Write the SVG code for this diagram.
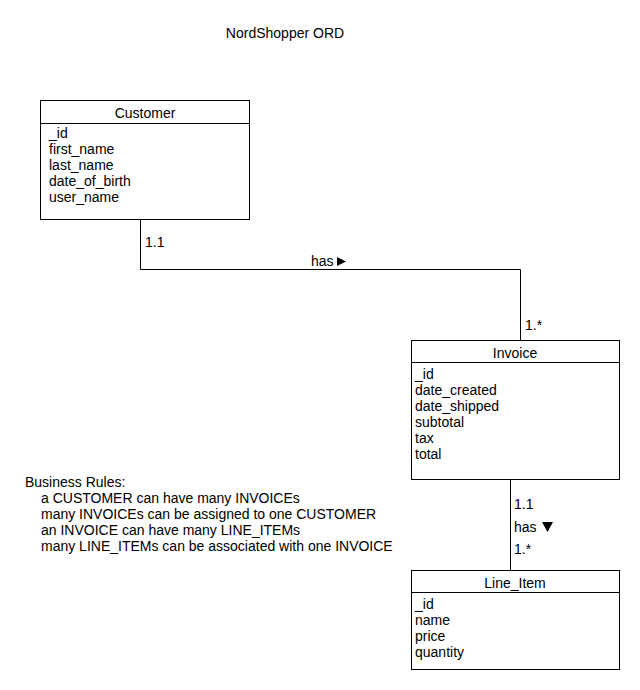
<svg xmlns="http://www.w3.org/2000/svg" width="640" height="690" viewBox="0 0 640 690">
<style>
text{font-family:"Liberation Sans",Arial,sans-serif;font-size:14px;fill:#000}
.c{text-anchor:middle}
.box{fill:#fff;stroke:#000;stroke-width:1}
.ln{stroke:#000;stroke-width:1;fill:none}
</style>
<rect width="640" height="690" fill="#fff"/>
<text class="c" x="285" y="38">NordShopper ORD</text>
<g id="connectors">
<polyline class="ln" points="140.5,219 140.5,269.5 520.5,269.5 520.5,340"/>
<line class="ln" x1="510.5" y1="479" x2="510.5" y2="570"/>
<text x="145" y="247">1.1</text>
<text x="311" y="266">has</text>
<polygon points="337,257 346,261.5 337,266" fill="#000"/>
<text x="525" y="330">1.*</text>
<text x="514" y="509">1.1</text>
<text x="514" y="532">has</text>
<polygon points="542,522 553,522 547.5,532" fill="#000"/>
<text x="514" y="554">1.*</text>
</g>
<g id="customer">
<rect class="box" x="40.5" y="100.5" width="209" height="119"/>
<line class="ln" x1="40.5" y1="123.5" x2="249.5" y2="123.5"/>
<text class="c" x="145" y="118">Customer</text>
<text x="49" y="138">_id</text>
<text x="49" y="154">first_name</text>
<text x="49" y="170">last_name</text>
<text x="49" y="186">date_of_birth</text>
<text x="49" y="202">user_name</text>
</g>
<g id="invoice">
<rect class="box" x="411.5" y="340.5" width="208" height="139"/>
<line class="ln" x1="411.5" y1="362.5" x2="619.5" y2="362.5"/>
<text class="c" x="515" y="358">Invoice</text>
<text x="415" y="379">_id</text>
<text x="415" y="395">date_created</text>
<text x="415" y="411">date_shipped</text>
<text x="415" y="427">subtotal</text>
<text x="415" y="443">tax</text>
<text x="415" y="459">total</text>
</g>
<g id="line_item">
<rect class="box" x="411.5" y="570.5" width="208" height="99"/>
<line class="ln" x1="411.5" y1="592.5" x2="619.5" y2="592.5"/>
<text class="c" x="515" y="588">Line_Item</text>
<text x="415" y="609">_id</text>
<text x="415" y="625">name</text>
<text x="415" y="641">price</text>
<text x="415" y="657">quantity</text>
</g>
<g id="business_rules">
<text x="25" y="487">Business Rules:</text>
<text x="41" y="503">a CUSTOMER can have many INVOICEs</text>
<text x="41" y="519">many INVOICEs can be assigned to one CUSTOMER</text>
<text x="41" y="535">an INVOICE can have many LINE_ITEMs</text>
<text x="41" y="551">many LINE_ITEMs can be associated with one INVOICE</text>
</g>
</svg>
